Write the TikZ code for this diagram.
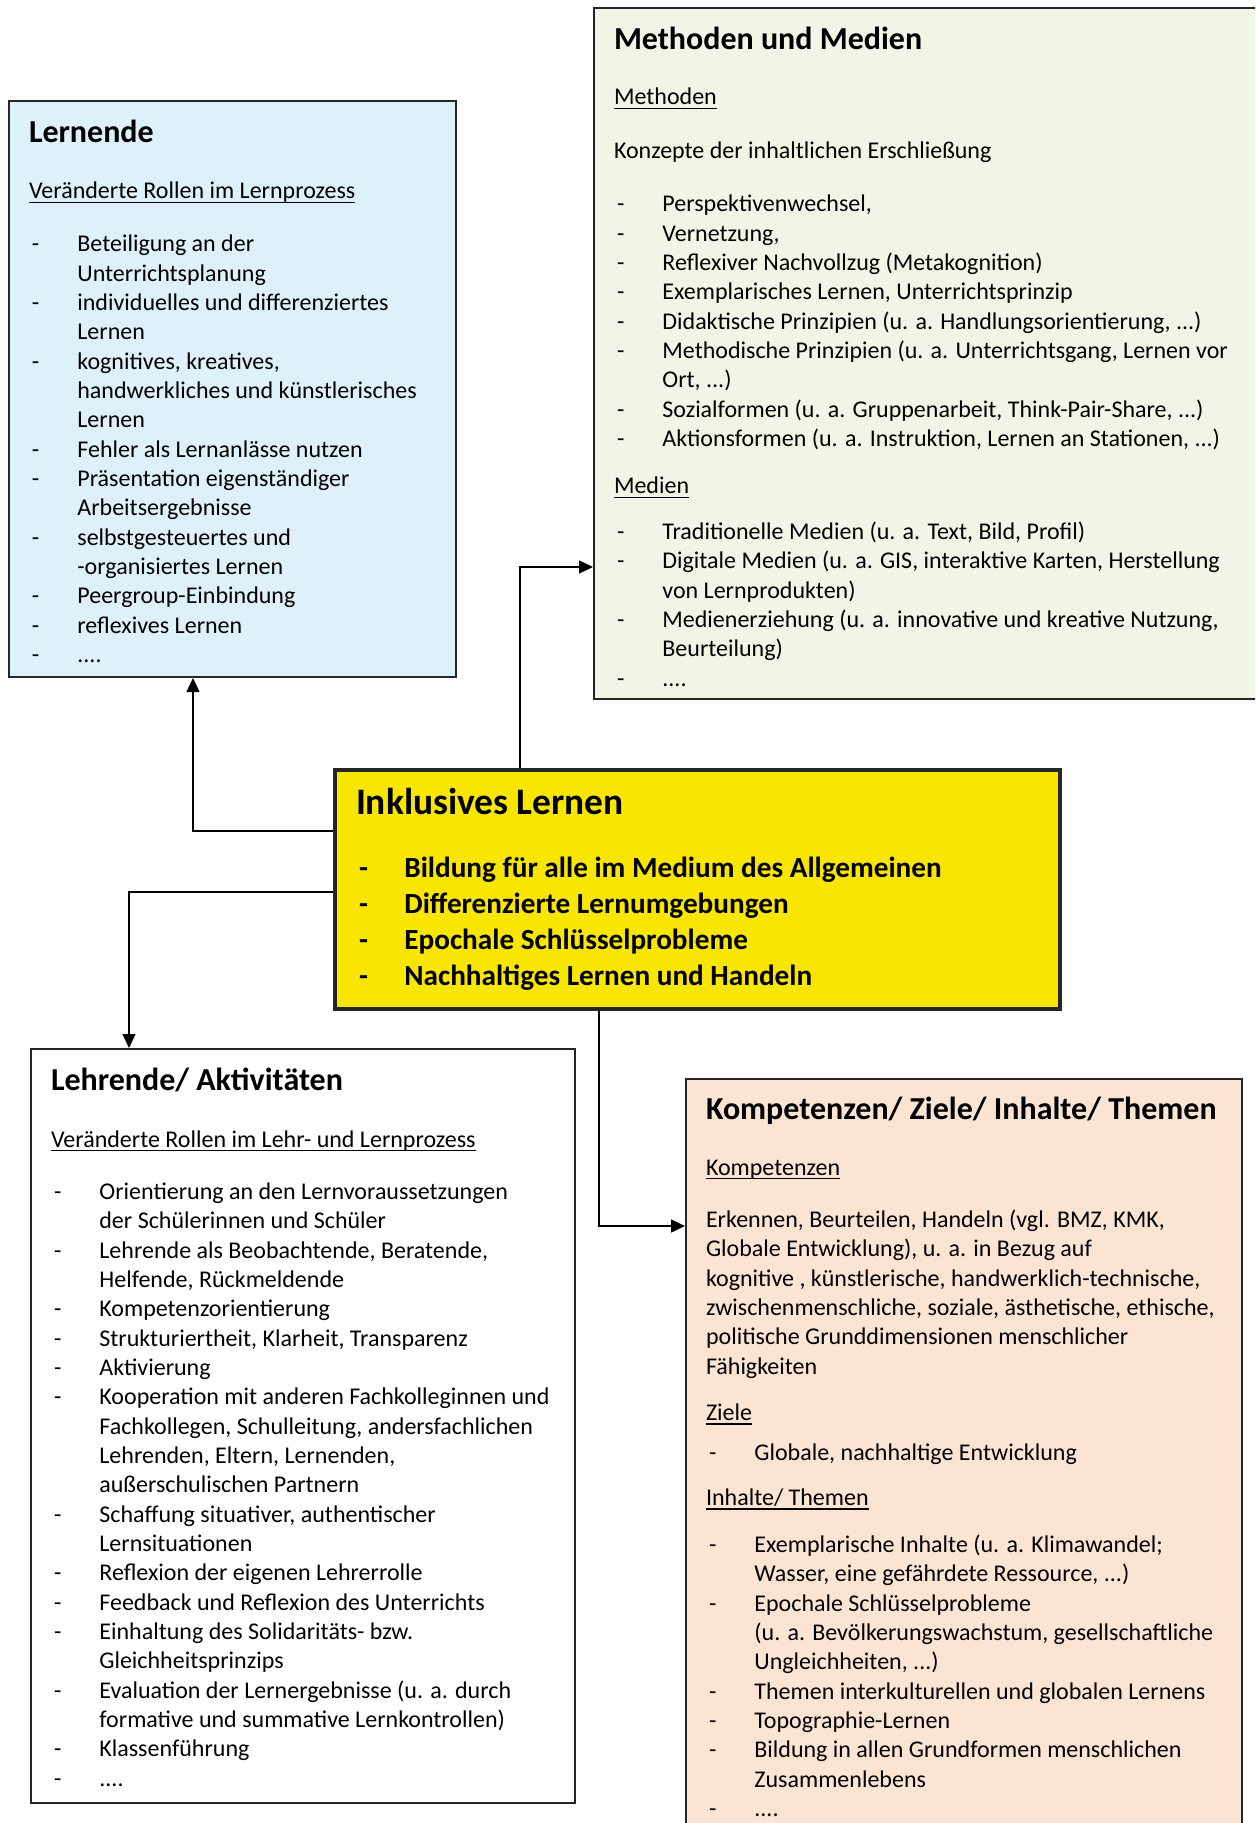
\documentclass[tikz,border=0pt]{standalone}
\usepackage{fontspec}
\setmainfont{Carlito}
\usetikzlibrary{arrows.meta}

\definecolor{lernblau}{RGB}{222,240,250}
\definecolor{methgruen}{RGB}{241,245,230}
\definecolor{inklgelb}{RGB}{248,230,0}
\definecolor{kompbeige}{RGB}{251,228,210}

\newcommand{\kasten}[3]{%
  \begin{minipage}[t][#2][t]{#1}%
    \fontsize{12}{14.665}\selectfont\raggedright
    \lineskiplimit=-\maxdimen\leftskip=10pt\relax
    #3\par
  \end{minipage}}
\newcommand{\titel}[2]{\vspace*{#1}\noindent\rule{0pt}{14pt}\mbox{\fontsize{16}{19}\selectfont\bfseries #2}\par}
\newcommand{\abst}[1]{\par\vskip\dimexpr#1-\baselineskip\relax}
\newlength{\itmind}\setlength{\itmind}{24.2pt}
\newcommand{\itm}[1]{\par\hangindent=\itmind\hangafter=1\noindent\makebox[\itmind][l]{\hspace{1.5pt}-}#1}
\newcommand{\unterstr}[1]{\setbox0\hbox{#1}\noindent\rlap{\rule[-2.2pt]{\wd0}{0.6pt}}\box0}

\begin{document}
\begin{tikzpicture}[x=0.5pt,y=-0.5pt]
		\tikzset{feld/.style={draw=black!85, line width=1pt, inner sep=0pt, anchor=north west},
			pfeil/.style={->, >={Triangle[length=7pt,width=6.5pt]}, line width=0.7pt}}
		\path[use as bounding box] (0,0) rectangle (1255,1823);
		\clip (0,0) rectangle (1255,1823);

		\node[feld, fill=inklgelb, line width=2pt] (0) at (333,768) {\kasten{362.5pt}{119.5pt}{%
			\fontsize{14.6}{18}\selectfont\bfseries\leftskip=10.5pt
			\vspace*{7.1pt}\noindent\rule{0pt}{15pt}\mbox{\fontsize{18.7}{22}\selectfont Inklusives Lernen}
			\abst{31.75pt}\itm{Bildung für alle im Medium des Allgemeinen}
			\itm{Differenzierte Lernumgebungen}
			\itm{Epochale Schlüsselprobleme}
			\itm{Nachhaltiges Lernen und Handeln}}};

		\node[feld, fill=lernblau] (1) at (8,100) {\kasten{223.5pt}{288pt}{%
			\titel{7pt}{Lernende}
			\abst{28pt}\unterstr{Veränderte Rollen im Lernprozess}
			\abst{26.5pt}\itm{Beteiligung an der\newline Unterrichtsplanung}
			\itm{individuelles und differenziertes\newline Lernen}
			\itm{kognitives, kreatives,\newline handwerkliches und künstlerisches\newline Lernen}
			\itm{Fehler als Lernanlässe nutzen}
			\itm{Präsentation eigenständiger\newline Arbeitsergebnisse}
			\itm{selbstgesteuertes und\newline -organisiertes Lernen}
			\itm{Peergroup-Einbindung}
			\itm{reflexives Lernen}
			\itm{....}}};

		\node[feld, fill=methgruen] (2) at (593,7) {\kasten{340pt}{345.5pt}{%
			\titel{7pt}{Methoden und Medien}
			\abst{27.5pt}\unterstr{Methoden}
			\abst{26.75pt}Konzepte der inhaltlichen Erschließung
			\abst{26.75pt}\itm{Perspektivenwechsel,}
			\itm{Vernetzung,}
			\itm{Reflexiver Nachvollzug (Metakognition)}
			\itm{Exemplarisches Lernen, Unterrichtsprinzip}
			\itm{Didaktische Prinzipien (u. a. Handlungsorientierung, ...)}
			\itm{Methodische Prinzipien (u. a. Unterrichtsgang, Lernen vor\newline Ort, ...)}
			\itm{Sozialformen (u. a. Gruppenarbeit, Think-Pair-Share, ...)}
			\itm{Aktionsformen (u. a. Instruktion, Lernen an Stationen, ...)}
			\abst{23.5pt}\unterstr{Medien}
			\abst{23pt}\itm{Traditionelle Medien (u. a. Text, Bild, Profil)}
			\itm{Digitale Medien (u. a. GIS, interaktive Karten, Herstellung\newline von Lernprodukten)}
			\itm{Medienerziehung (u. a. innovative und kreative Nutzung,\newline Beurteilung)}
			\itm{....}}};

		\node[feld, fill=white] (3) at (30,1048) {\kasten{272pt}{377pt}{%
			\titel{6.75pt}{Lehrende/ Aktivitäten}
			\abst{28.25pt}\unterstr{Veränderte Rollen im Lehr- und Lernprozess}
			\abst{26.25pt}\itm{Orientierung an den Lernvoraussetzungen\newline der Schülerinnen und Schüler}
			\itm{Lehrende als Beobachtende, Beratende,\newline Helfende, Rückmeldende}
			\itm{Kompetenzorientierung}
			\itm{Strukturiertheit, Klarheit, Transparenz}
			\itm{Aktivierung}
			\itm{Kooperation mit anderen Fachkolleginnen und\newline Fachkollegen, Schulleitung, andersfachlichen\newline Lehrenden, Eltern, Lernenden,\newline außerschulischen Partnern}
			\itm{Schaffung situativer, authentischer\newline Lernsituationen}
			\itm{Reflexion der eigenen Lehrerrolle}
			\itm{Feedback und Reflexion des Unterrichts}
			\itm{Einhaltung des Solidaritäts- bzw.\newline Gleichheitsprinzips}
			\itm{Evaluation der Lernergebnisse (u. a. durch\newline formative und summative Lernkontrollen)}
			\itm{Klassenführung}
			\itm{....}}};

		\node[feld, fill=kompbeige] (4) at (685,1078) {\kasten{278pt}{381pt}{%
			\titel{6pt}{Kompetenzen/ Ziele/ Inhalte/ Themen}
			\abst{28pt}\unterstr{Kompetenzen}
			\abst{26.25pt}Erkennen, Beurteilen, Handeln (vgl. BMZ, KMK,\newline Globale Entwicklung), u. a. in Bezug auf\newline kognitive , künstlerische, handwerklich-technische,\newline zwischenmenschliche, soziale, ästhetische, ethische,\newline politische Grunddimensionen menschlicher\newline Fähigkeiten
			\abst{23pt}\unterstr{Ziele}
			\abst{20pt}\itm{Globale, nachhaltige Entwicklung}
			\abst{22.5pt}\unterstr{Inhalte/ Themen}
			\abst{23.75pt}\itm{Exemplarische Inhalte (u. a. Klimawandel;\newline Wasser, eine gefährdete Ressource, ...)}
			\itm{Epochale Schlüsselprobleme\newline (u. a. Bevölkerungswachstum, gesellschaftliche\newline Ungleichheiten, ...)}
			\itm{Themen interkulturellen und globalen Lernens}
			\itm{Topographie-Lernen}
			\itm{Bildung in allen Grundformen menschlichen\newline Zusammenlebens}
			\itm{....}}};

		% Verbindungen vom Kern zu den Feldern
		\draw[pfeil] ([yshift=29.25pt]0.west) -| ([xshift=-19.75pt]1.south);
		\draw[pfeil] ([yshift=-1.25pt]0.west) -| ([xshift=-87pt]3.north);
		\draw[pfeil] ([xshift=-88.75pt]0.north) |- ([yshift=-106.75pt]2.west);
		\draw[pfeil] ([xshift=-49.25pt]0.south) |- ([yshift=117pt]4.west);
	\end{tikzpicture}
\end{document}
